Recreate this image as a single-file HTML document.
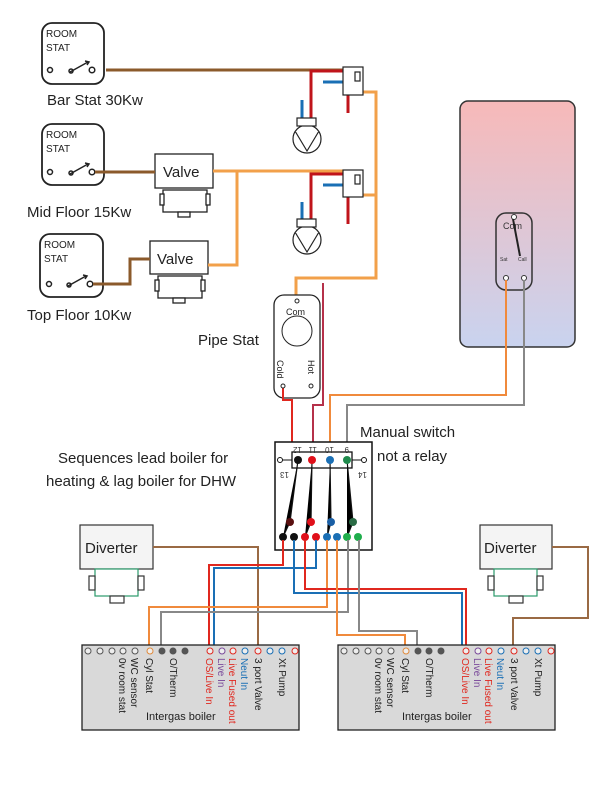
<!DOCTYPE html>
<html><head><meta charset="utf-8"><style>
body{margin:0;background:#fff}
svg{display:block;font-family:"Liberation Sans",sans-serif}
</style></head><body>
<svg width="616" height="785" viewBox="0 0 616 785" xmlns="http://www.w3.org/2000/svg">
<defs>
<linearGradient id="cyl" x1="0" y1="0" x2="0" y2="1"><stop offset="0" stop-color="#f7b9b9"/><stop offset="1" stop-color="#c9d3ef"/></linearGradient>
</defs>
<g fill="#fff" stroke="#222" stroke-width="1.8">
<rect x="42" y="23" width="62" height="61" rx="10"/>
<rect x="42" y="124" width="62" height="61" rx="10"/>
<rect x="40" y="234" width="63" height="63" rx="10"/>
</g>
<g font-size="10" fill="#222">
<text x="46" y="37">ROOM</text><text x="46" y="51">STAT</text>
<text x="46" y="138">ROOM</text><text x="46" y="152">STAT</text>
<text x="44" y="248">ROOM</text><text x="44" y="262">STAT</text>
</g>
<g fill="none" stroke="#222" stroke-width="1.5">
<circle cx="50" cy="70" r="2.5"/><circle cx="92" cy="70" r="2.8"/><path d="M70 72 L88 62 M85 61 L89 62 L87 65"/><circle cx="71" cy="71" r="2"/>
<circle cx="50" cy="172" r="2.5"/><circle cx="92" cy="172" r="2.8"/><path d="M70 174 L88 164 M85 163 L89 164 L87 167"/><circle cx="71" cy="173" r="2"/>
<circle cx="49" cy="284" r="2.5"/><circle cx="90" cy="284" r="2.8"/><path d="M68 286 L86 276 M83 275 L87 276 L85 279"/><circle cx="69" cy="285" r="2"/>
</g>
<g font-size="15" fill="#222">
<text x="47" y="105">Bar Stat 30Kw</text>
<text x="27" y="217">Mid Floor 15Kw</text>
<text x="27" y="320">Top Floor 10Kw</text>
<text x="198" y="345">Pipe Stat</text>
<text x="360" y="437">Manual switch</text>
<text x="377" y="461">not a relay</text>
<text x="58" y="463">Sequences lead boiler for</text>
<text x="46" y="486">heating &amp; lag boiler for DHW</text>
</g>
<g fill="#fff" stroke="#222" stroke-width="1.3">
<rect x="155" y="154" width="58" height="34"/>
<rect x="163" y="190" width="44" height="22"/><rect x="160" y="194" width="4" height="11"/><rect x="206" y="194" width="4" height="11"/><rect x="178" y="212" width="12" height="5"/>
<rect x="150" y="241" width="58" height="33"/>
<rect x="158" y="276" width="44" height="22"/><rect x="155" y="280" width="4" height="11"/><rect x="201" y="280" width="4" height="11"/><rect x="173" y="298" width="12" height="5"/>
</g>
<text x="163" y="177" font-size="15" fill="#222">Valve</text>
<text x="157" y="264" font-size="15" fill="#222">Valve</text>
<g fill="none" stroke="#8b5a2b" stroke-width="3">
<path d="M106 70 H345"/>
<path d="M95 172 H155"/>
<path d="M93 284 H130 V259 H150"/>
</g>
<g fill="none" stroke="#f2a04a" stroke-width="3">
<path d="M213 171 H345"/>
<path d="M237 171 V265 H208"/>
<path d="M358 92 H376 V278 H296 V295"/>
<path d="M358 195 H376"/>
</g>
<g stroke-width="3" fill="none">
<path d="M344 71 H311 V119" stroke="#c0141b"/>
<path d="M323 82 H343" stroke="#1a6fb5"/>
<path d="M302 100 V119" stroke="#1a6fb5"/>
<path d="M348 95 V113" stroke="#c0141b"/>
<path d="M344 174 H311 V221" stroke="#c0141b"/>
<path d="M323 185 H343" stroke="#1a6fb5"/>
<path d="M302 202 V221" stroke="#1a6fb5"/>
<path d="M348 197 V224" stroke="#c0141b"/>
</g>
<g fill="#fff" stroke="#222" stroke-width="1.2">
<rect x="343" y="67" width="20" height="28"/><rect x="355" y="72" width="5" height="9"/>
<rect x="343" y="170" width="20" height="27"/><rect x="355" y="175" width="5" height="9"/>
<circle cx="307" cy="139" r="14"/><rect x="297" y="118" width="19" height="8"/>
<circle cx="307" cy="240" r="14"/><rect x="297" y="219" width="19" height="8"/>
<path d="M295 131 L307 151 L319 131 M295 232 L307 252 L319 232"/>
</g>
<rect x="460" y="101" width="115" height="246" rx="8" fill="url(#cyl)" stroke="#333" stroke-width="1.5"/>
<rect x="496" y="213" width="36" height="77" rx="10" fill="none" stroke="#333" stroke-width="1.5"/>
<circle cx="514" cy="217" r="2.5" fill="#fff" stroke="#333"/>
<text x="503" y="229" font-size="9" fill="#333">Com</text>
<path d="M513 219 L520 256" stroke="#222" stroke-width="2"/>
<text x="500" y="261" font-size="5" fill="#333">Sat</text><text x="518" y="261" font-size="5" fill="#333">Call</text>
<circle cx="506" cy="278" r="2.5" fill="#fff" stroke="#333"/><circle cx="524" cy="278" r="2.5" fill="#fff" stroke="#333"/>
<rect x="274" y="295" width="46" height="103" rx="10" fill="#fff" stroke="#222" stroke-width="1.3"/>
<circle cx="297" cy="331" r="15" fill="#fff" stroke="#222"/>
<circle cx="297" cy="301" r="2" fill="#fff" stroke="#222"/>
<text x="286" y="315" font-size="9" fill="#222">Com</text>
<text transform="translate(277,360) rotate(90)" font-size="9" fill="#222">Cold</text>
<text transform="translate(308,360) rotate(90)" font-size="9" fill="#222">Hot</text>
<g fill="none" stroke-width="2">
<path d="M283 388 V400 H292 V445" stroke="#e0281f"/>
<path d="M323 283 V405 H313 V445" stroke="#b5314a"/>
<path d="M506 280 V395 H330 V445" stroke="#f08a3c"/>
<path d="M524 280 V405 H347 V445" stroke="#888"/>
</g>
<circle cx="283" cy="386" r="2" fill="#fff" stroke="#222"/><circle cx="311" cy="386" r="2" fill="#fff" stroke="#222"/>
<rect x="275" y="442" width="97" height="108" fill="#fff" stroke="#111" stroke-width="1.5"/>
<rect x="292" y="452" width="60" height="16" fill="none" stroke="#111" stroke-width="1.3"/>
<g font-size="8" fill="#333">
<text transform="translate(302,447) rotate(180)">12</text><text transform="translate(317,447) rotate(180)">11</text>
<text transform="translate(334,447) rotate(180)">10</text><text transform="translate(349,447) rotate(180)">9</text>
<text transform="translate(289,472) rotate(180)">13</text><text transform="translate(367,472) rotate(180)">14</text>
</g>
<path d="M281 460 H292 M352 460 H363" stroke="#111"/>
<circle cx="280" cy="460" r="2.5" fill="#fff" stroke="#111"/><circle cx="364" cy="460" r="2.5" fill="#fff" stroke="#111"/>
<g stroke-width="1.2">
<path d="M298 460 L290 522 L283 537" stroke="#111"/>
<path d="M312 460 L311 522 L305 537" stroke="#111"/>
<path d="M330 460 L331 522 L327 537" stroke="#111"/>
<path d="M347 460 L353 522 L347 537" stroke="#111"/>
</g>
<circle cx="298" cy="460" r="4" fill="#111"/><circle cx="312" cy="460" r="4" fill="#e0101a"/><circle cx="330" cy="460" r="4" fill="#1a6fb5"/><circle cx="347" cy="460" r="4" fill="#1f8a4c"/>
<circle cx="290" cy="522" r="4" fill="#5a1010"/><circle cx="311" cy="522" r="4" fill="#e0101a"/><circle cx="331" cy="522" r="4" fill="#1a5fa5"/><circle cx="353" cy="522" r="4" fill="#2a6b45"/>
<circle cx="283" cy="537" r="4" fill="#111"/><circle cx="294" cy="537" r="4" fill="#111"/><circle cx="305" cy="537" r="4" fill="#e0101a"/><circle cx="316" cy="537" r="4" fill="#e0101a"/><circle cx="327" cy="537" r="4" fill="#1a6fb5"/><circle cx="337" cy="537" r="4" fill="#1a6fb5"/><circle cx="347" cy="537" r="4" fill="#1fae4c"/><circle cx="358" cy="537" r="4" fill="#1fae4c"/>
<g fill="#fff" stroke="#333" stroke-width="1.2">
<rect x="80" y="525" width="73" height="44" fill="#f4f4f4"/>
<rect x="95" y="569" width="43" height="27" stroke="#2a9a6a"/><rect x="89" y="576" width="6" height="14"/><rect x="138" y="576" width="6" height="14"/><rect x="110" y="596" width="14" height="7"/>
<rect x="480" y="525" width="72" height="44" fill="#f4f4f4"/>
<rect x="494" y="569" width="43" height="27" stroke="#2a9a6a"/><rect x="488" y="576" width="6" height="14"/><rect x="537" y="576" width="6" height="14"/><rect x="509" y="596" width="14" height="7"/>
</g>
<text x="85" y="553" font-size="15" fill="#222">Diverter</text>
<text x="484" y="553" font-size="15" fill="#222">Diverter</text>
<g fill="none" stroke-width="2">
<path d="M153 547 H258 V648" stroke="#9a6a44"/>
<path d="M552 547 H588 V618 H513 V648" stroke="#9a6a44"/>
<path d="M283 540 V565 H209 V648" stroke="#e0281f"/>
<path d="M316 540 V568 H214 V648" stroke="#1a6fb5"/>
<path d="M327 540 V607 H149 V648" stroke="#f08a3c"/>
<path d="M348 540 V612 H161 V648" stroke="#888"/>
<path d="M294 540 V593 H462 V648" stroke="#1a6fb5"/>
<path d="M305 540 V589 H466 V648" stroke="#e0281f"/>
<path d="M337 540 V635 H405 V648" stroke="#f08a3c"/>
<path d="M359 540 V631 H417 V648" stroke="#888"/>
</g>
<g id="b1">
<rect x="82" y="645" width="217" height="85" fill="#d9d9d9" stroke="#222" stroke-width="1.3"/>
<g fill="#eee" stroke="#555" stroke-width="1">
<circle cx="88" cy="651" r="3"/><circle cx="100" cy="651" r="3"/><circle cx="112" cy="651" r="3"/><circle cx="123" cy="651" r="3"/><circle cx="135" cy="651" r="3"/><circle cx="150" cy="651" r="3" stroke="#e08a3c"/>
<circle cx="162" cy="651" r="3" fill="#555"/><circle cx="173" cy="651" r="3" fill="#555"/><circle cx="185" cy="651" r="3" fill="#555"/>
<circle cx="210" cy="651" r="3" stroke="#e0281f"/><circle cx="222" cy="651" r="3" stroke="#7a4a9a"/><circle cx="233" cy="651" r="3" stroke="#e0281f"/><circle cx="245" cy="651" r="3" stroke="#1a6fb5"/><circle cx="258" cy="651" r="3" stroke="#e0281f"/><circle cx="270" cy="651" r="3" stroke="#1a6fb5"/><circle cx="282" cy="651" r="3" stroke="#1a6fb5"/><circle cx="295" cy="651" r="3" stroke="#e0281f"/>
</g>
<g font-size="10">
<text transform="translate(119,658) rotate(90)" fill="#222">0v room stat</text>
<text transform="translate(131,658) rotate(90)" fill="#222">WC sensor</text>
<text transform="translate(146,658) rotate(90)" fill="#222">Cyl Stat</text>
<text transform="translate(170,658) rotate(90)" fill="#222">O/Therm</text>
<text transform="translate(206,658) rotate(90)" fill="#e0281f">OS/Live In</text>
<text transform="translate(218,658) rotate(90)" fill="#7a4a9a">Live In</text>
<text transform="translate(229,658) rotate(90)" fill="#e0281f">Live Fused out</text>
<text transform="translate(241,658) rotate(90)" fill="#1a6fb5">Neut In</text>
<text transform="translate(255,658) rotate(90)" fill="#222">3 port Valve</text>
<text transform="translate(279,658) rotate(90)" fill="#222">Xt Pump</text>
</g>
<text x="146" y="720" font-size="11" fill="#222">Intergas boiler</text>
</g>
<use href="#b1" transform="translate(256,0)"/>
</svg>
</body></html>
